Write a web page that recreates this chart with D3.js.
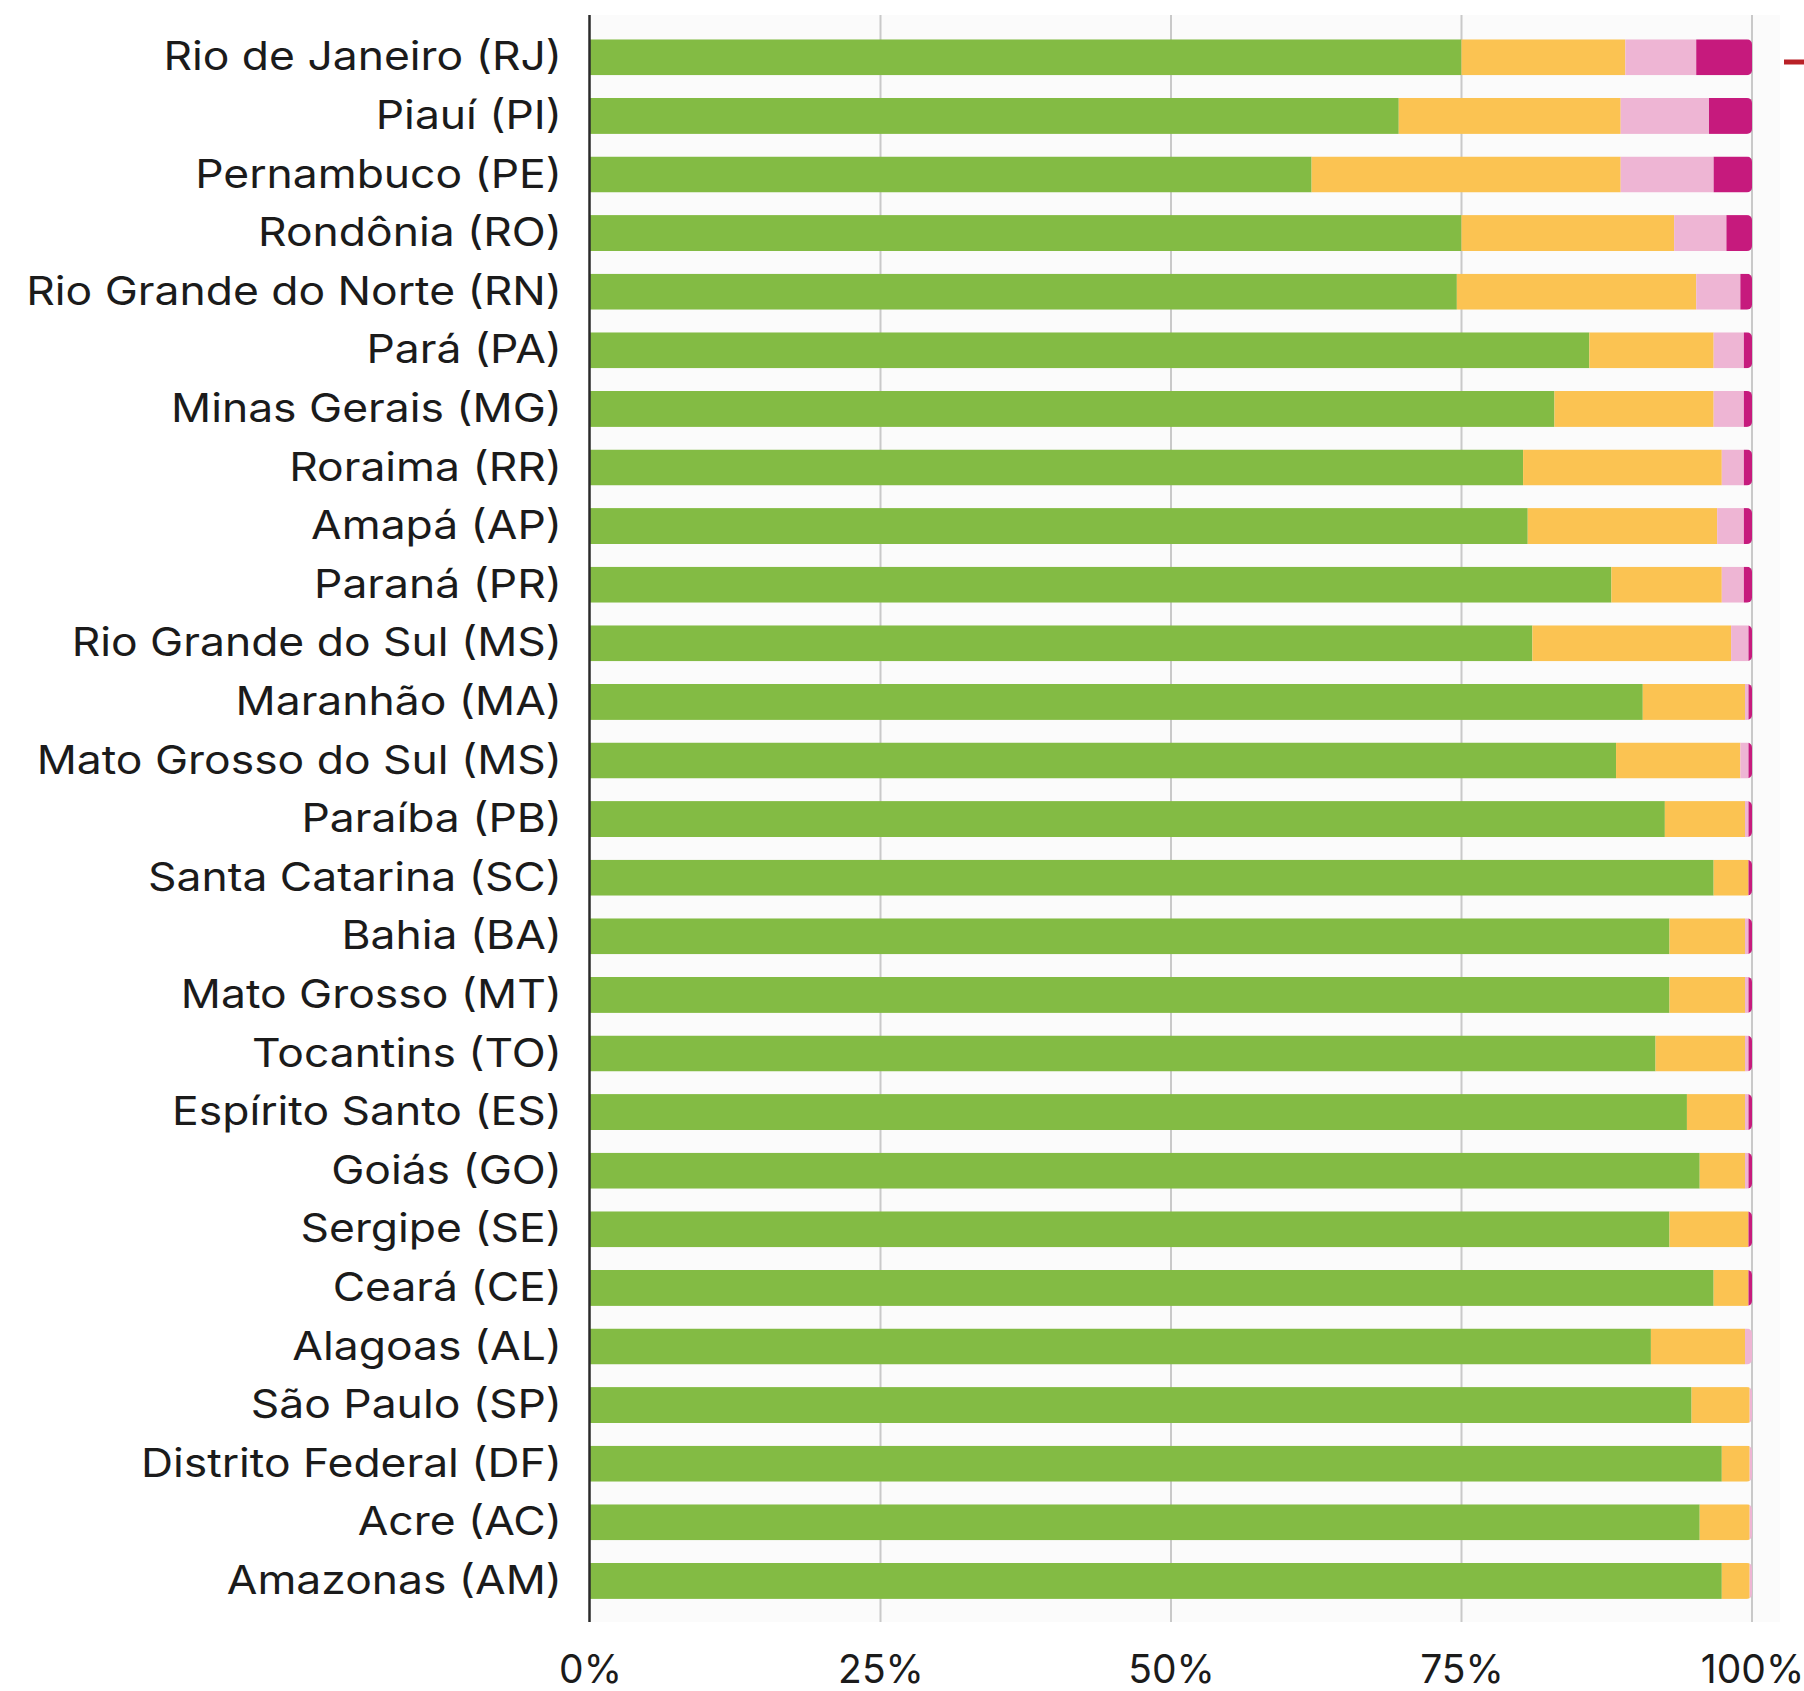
<!DOCTYPE html>
<html>
<head>
<meta charset="utf-8">
<script src="https://cdn.jsdelivr.net/npm/d3@7"></script>
<style>
  html, body { margin: 0; padding: 0; background: #ffffff; }
  svg { display: block; }
</style>
</head>
<body>
<svg id="chart" width="1804" height="1691"></svg>
<script>
// ---------- DATA ----------
const estados = [
  "Rio de Janeiro (RJ)", "Piauí (PI)", "Pernambuco (PE)", "Rondônia (RO)",
  "Rio Grande do Norte (RN)", "Pará (PA)", "Minas Gerais (MG)", "Roraima (RR)",
  "Amapá (AP)", "Paraná (PR)", "Rio Grande do Sul (MS)", "Maranhão (MA)",
  "Mato Grosso do Sul (MS)", "Paraíba (PB)", "Santa Catarina (SC)", "Bahia (BA)",
  "Mato Grosso (MT)", "Tocantins (TO)", "Espírito Santo (ES)", "Goiás (GO)",
  "Sergipe (SE)", "Ceará (CE)", "Alagoas (AL)", "São Paulo (SP)",
  "Distrito Federal (DF)", "Acre (AC)", "Amazonas (AM)"
];
const serieVerde    = [75.0, 69.6, 62.1, 75.0, 74.6, 86.0, 83.0, 80.3, 80.7, 87.9, 81.1, 90.6, 88.3, 92.5, 96.7, 92.9, 92.9, 91.7, 94.4, 95.5, 92.9, 96.7, 91.3, 94.8, 97.4, 95.5, 97.4];
const serieAmarela  = [14.1, 19.1, 26.6, 18.3, 20.6, 10.7, 13.7, 17.1, 16.3,  9.5, 17.1,  8.8, 10.7,  6.9,  3.0,  6.5,  6.5,  7.7,  5.0,  3.9,  6.8,  3.0,  8.1,  5.0,  2.4,  4.3,  2.4];
const serieRosa     = [ 6.1,  7.6,  8.0,  4.5,  3.8,  2.6,  2.6,  1.9,  2.3,  1.9,  1.5,  0.3,  0.7,  0.3,  0.0,  0.3,  0.3,  0.3,  0.3,  0.3,  0.0,  0.0,  0.6,  0.2,  0.2,  0.2,  0.2];
const serieMagenta  = [ 4.8,  3.7,  3.3,  2.2,  1.0,  0.7,  0.7,  0.7,  0.7,  0.7,  0.3,  0.3,  0.3,  0.3,  0.3,  0.3,  0.3,  0.3,  0.3,  0.3,  0.3,  0.3,  0.0,  0.0,  0.0,  0.0,  0.0];
const seriesKeys    = ["verde", "amarela", "rosa", "magenta"];
const tickValues    = [0, 25, 50, 75, 100];
const tickLabels    = ["0%", "25%", "50%", "75%", "100%"];

// table built from the arrays
const rows = estados.map((e, i) => ({
  estado: e,
  verde: serieVerde[i],
  amarela: serieAmarela[i],
  rosa: serieRosa[i],
  magenta: serieMagenta[i]
}));

// ---------- LAYOUT ----------
const colors = { verde: "#83bb44", amarela: "#fbc352", rosa: "#eeb5d4", magenta: "#c61a7d" };
const FONT = "Inter, 'Open Sans', sans-serif";

const svg = d3.select("#chart");
const x = d3.scaleLinear().domain([0, 100]).range([590, 1752]);
const y = d3.scaleBand().domain(estados).range([28, 1610.2]).paddingInner(0.386).paddingOuter(0.193);

const plotTop = 15, plotBottom = 1622;

// faint plot background
svg.append("rect")
  .attr("x", x(0)).attr("y", plotTop)
  .attr("width", 1780 - x(0)).attr("height", plotBottom - plotTop)
  .attr("fill", "#fbfbfb");

// gridlines
svg.append("g").selectAll("line")
  .data(tickValues.filter(d => d > 0))
  .join("line")
  .attr("x1", d => x(d)).attr("x2", d => x(d))
  .attr("y1", plotTop).attr("y2", plotBottom)
  .attr("stroke", "#c9c9c9").attr("stroke-width", 2);

// stacked bars
const stacked = d3.stack().keys(seriesKeys)(rows);

const defs = svg.append("defs");
estados.forEach((e, i) => {
  defs.append("clipPath").attr("id", "clip" + i)
    .append("rect")
    .attr("x", x(0) - 10).attr("y", y(e))
    .attr("width", x(100) - x(0) + 10).attr("height", y.bandwidth())
    .attr("rx", 5).attr("ry", 5);
});

const barsG = svg.append("g");
stacked.forEach(layer => {
  barsG.append("g").attr("fill", colors[layer.key])
    .selectAll("rect")
    .data(layer.map((d, i) => ({ d, i })))
    .join("rect")
    .attr("clip-path", o => "url(#clip" + o.i + ")")
    .attr("x", o => x(o.d[0]))
    .attr("y", o => y(o.d.data.estado))
    .attr("width", o => Math.max(0, x(o.d[1]) - x(o.d[0])))
    .attr("height", y.bandwidth());
});

// zero axis line
svg.append("line")
  .attr("x1", x(0) - 0.5).attr("x2", x(0) - 0.5)
  .attr("y1", plotTop).attr("y2", plotBottom)
  .attr("stroke", "#2b2b2b").attr("stroke-width", 2.5);

// category labels (left axis)
const yAxis = svg.append("g")
  .attr("transform", `translate(${x(0)},0)`)
  .call(d3.axisLeft(y).tickSize(0).tickPadding(28));
yAxis.select(".domain").remove();
const labels = yAxis.selectAll("text")
  .attr("font-family", FONT)
  .attr("font-size", 39.5)
  .attr("fill", "#1b1b1b")
  .attr("dy", "0.33em");

// widen glyphs horizontally (reference font is a wide geometric sans) so the
// longest label spans ~536px like in the reference
let maxW = 0;
labels.each(function () { maxW = Math.max(maxW, this.getComputedTextLength()); });
const sx = Math.min(1.25, Math.max(1, 536 / maxW));
labels.attr("x", -28 / sx).attr("transform", `scale(${sx},1)`);

// bottom tick labels
const xAxis = svg.append("g")
  .attr("transform", `translate(0,1683)`)
  .call(d3.axisBottom(x).tickValues(tickValues).tickFormat((d, i) => tickLabels[i]).tickSize(0).tickPadding(0));
xAxis.select(".domain").remove();
xAxis.selectAll("text")
  .attr("y", 0).attr("dy", 0)
  .attr("font-family", FONT)
  .attr("font-size", 39)
  .attr("fill", "#1b1b1b");

// cut-off red legend mark at the right edge
svg.append("line")
  .attr("x1", 1784).attr("x2", 1810)
  .attr("y1", 62).attr("y2", 62)
  .attr("stroke", "#b92127").attr("stroke-width", 5);
</script>
</body>
</html>
